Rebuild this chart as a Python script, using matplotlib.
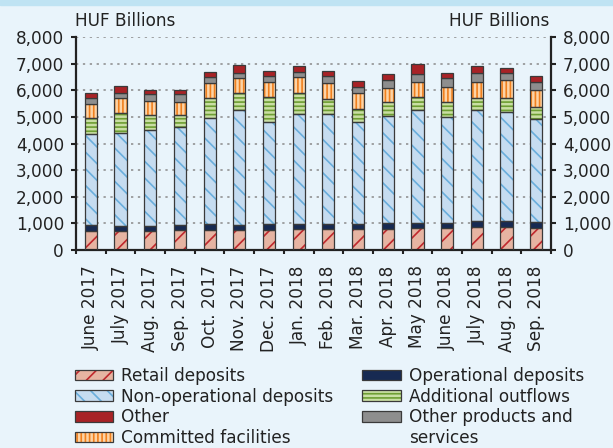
import numpy as np
import matplotlib.pyplot as plt
from matplotlib.patches import Rectangle, Patch

plt.rcParams['font.family'] = ['DejaVu Sans']
plt.rcParams['hatch.linewidth'] = 1.2

months = ['June 2017', 'July 2017', 'Aug. 2017', 'Sep. 2017', 'Oct. 2017',
          'Nov. 2017', 'Dec. 2017', 'Jan. 2018', 'Feb. 2018', 'Mar. 2018',
          'Apr. 2018', 'May 2018', 'June 2018', 'July 2018', 'Aug. 2018',
          'Sep. 2018']

# segment values, HUF billions
retail = [715, 715, 715, 750, 750, 750, 750, 790, 790, 790, 790, 830, 830, 865, 865, 830]
operational = [225, 200, 190, 190, 215, 190, 240, 200, 200, 200, 215, 200, 200, 215, 215, 235]
non_operational = [3415, 3500, 3600, 3690, 4015, 4340, 3840, 4140, 4140, 3830, 4015, 4230, 3965, 4180, 4090, 3865]
additional = [600, 740, 565, 450, 740, 605, 930, 755, 550, 490, 540, 500, 565, 465, 550, 450]
committed = [540, 540, 540, 490, 540, 565, 550, 600, 600, 580, 525, 540, 580, 590, 655, 640]
other_products = [225, 215, 240, 290, 250, 210, 240, 215, 265, 250, 300, 300, 310, 350, 265, 290]
other = [175, 250, 175, 165, 175, 280, 165, 225, 200, 225, 225, 400, 200, 240, 215, 215]

series = [
    ('Retail deposits', retail, '#e6b4a2', '#c0282d', '//'),
    ('Operational deposits', operational, '#172a52', None, None),
    ('Non-operational deposits', non_operational, '#c6dcf0', '#6aaedc', '\\\\'),
    ('Additional outflows', additional, '#c9dea3', '#6e9e32', '----'),
    ('Committed facilities', committed, '#fdd3a5', '#f0801e', '||||'),
    ('Other products and', other_products, '#8e8e8e', None, None),
    ('Other', other, '#a82226', None, None),
]

bg = '#e9f4fb'
edge = '#3a3a3a'
txt = '#222222'
fs = 12.2

fig = plt.figure(figsize=(6.13, 4.48), dpi=100, facecolor=bg)
ax = fig.add_axes([0.124, 0.442, 0.775, 0.475], facecolor=bg)
fig.patches.append(Rectangle((0, 0.988), 1, 0.012, transform=fig.transFigure,
                             color='#bfe3f3', zorder=0))

x = np.arange(len(months))
bottom = np.zeros(len(months))
handles = {}
for name, vals, fc, hc, hatch in series:
    vals = np.array(vals, dtype=float)
    if hatch:
        ax.bar(x, vals, 0.41, bottom=bottom, facecolor=fc, edgecolor=hc,
               hatch=hatch, linewidth=0, zorder=2)
        ax.bar(x, vals, 0.41, bottom=bottom, facecolor='none',
               edgecolor=edge, linewidth=0.9, zorder=3)
        handles[name] = (Patch(facecolor=fc, edgecolor=hc, hatch=hatch, linewidth=0),
                         Patch(facecolor='none', edgecolor=edge, linewidth=0.9))
    else:
        ax.bar(x, vals, 0.41, bottom=bottom, facecolor=fc,
               edgecolor=edge, linewidth=0.9, zorder=3)
        handles[name] = Patch(facecolor=fc, edgecolor=edge, linewidth=0.9)
    bottom += vals

ax.set_xlim(-0.5, len(months) - 0.5)
ax.set_ylim(0, 8000)
yt = np.arange(0, 8001, 1000)
ax.set_yticks(yt)
ax.set_yticklabels([f'{v:,}' for v in yt])
ax.tick_params(axis='y', labelsize=fs, direction='out', length=3.6, width=1.5,
               colors=txt, right=True, labelright=True, pad=5)
ax.set_xticks(x)
ax.set_xticklabels(months, rotation=90, fontsize=fs, color=txt)
ax.set_xticks(np.arange(-0.5, len(months)), minor=True)
ax.tick_params(axis='x', which='major', length=0, pad=11)
ax.tick_params(axis='x', which='minor', length=3, width=1.5, direction='out',
               color=txt)
for v in yt[1:]:
    ax.axhline(v, color='#8a8a8a', linestyle=(0, (1.5, 3)), linewidth=1.1, zorder=1)
for s in ['left', 'right', 'bottom']:
    ax.spines[s].set_linewidth(1.6)
    ax.spines[s].set_color(txt)
ax.spines['top'].set_visible(False)

fig.text(0.122, 0.942, 'HUF Billions', fontsize=fs, color=txt, ha='left', va='baseline')
fig.text(0.897, 0.942, 'HUF Billions', fontsize=fs, color=txt, ha='right', va='baseline')

order = ['Retail deposits', 'Non-operational deposits', 'Other', 'Committed facilities',
         'Operational deposits', 'Additional outflows', 'Other products and']
leg = fig.legend([handles[n] for n in order], order, ncol=2, loc='upper left',
                 bbox_to_anchor=(0.122, 0.181), frameon=False, fontsize=fs,
                 handlelength=2.25, handleheight=0.6, handletextpad=0.5,
                 columnspacing=1.7, labelspacing=0.16, borderaxespad=0,
                 borderpad=0)
for t in leg.get_texts():
    t.set_color(txt)

# second line of the last legend label, placed under its first line
fig.canvas.draw()
bb = leg.get_texts()[-1].get_window_extent().transformed(fig.transFigure.inverted())
fig.text(bb.x0, bb.y0 - 0.047, 'services', fontsize=fs, color=txt,
         ha='left', va='bottom')

fig.savefig('out.png', dpi=100, facecolor=bg)
